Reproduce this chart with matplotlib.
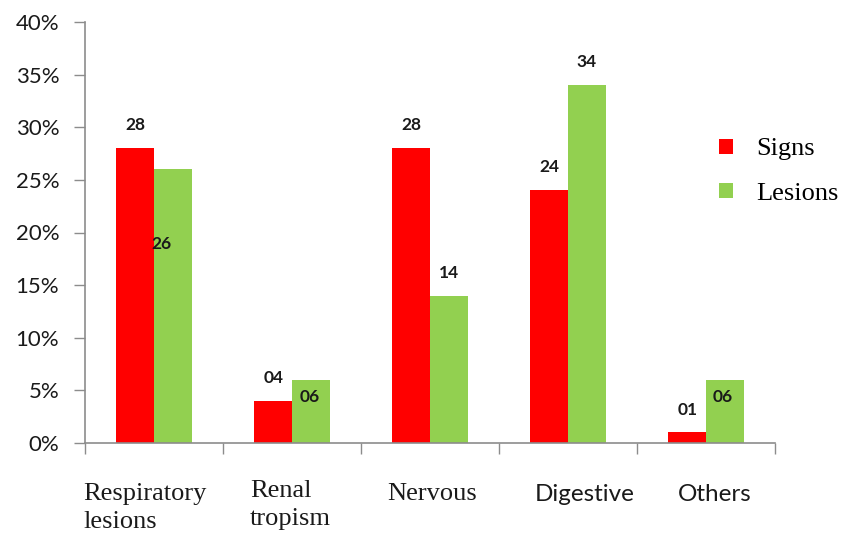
import matplotlib
matplotlib.use("Agg")
import matplotlib.pyplot as plt
from matplotlib.ticker import FuncFormatter, MultipleLocator
import numpy as np

categories = ["Respiratory\nlesions", "Renal\ntropism", "Nervous", "Digestive", "Others"]
signs = [28, 4, 28, 24, 1]
lesions = [26, 6, 14, 34, 6]
signs_labels = ["28", "04", "28", "24", "01"]
lesions_labels = ["26", "06", "14", "34", "06"]

# label offsets (pixels) relative to the top centre of each bar
signs_offsets = [(0, 23), (0, 23), (0, 23), (0, 23), (0, 22)]
lesions_offsets = [(-11, -75), (-1, -17), (0, 23), (0, 23), (-2, -17)]

# category label placement: left edge / top relative to category centre at the axis
cat_dx = [-71, -42, -43, -33, -28]
cat_dy = [-40, -37, -40, -41, -41]
SERIF = ["Liberation Serif", "DejaVu Serif"]
SANS = ["Lato", "DejaVu Sans"]
cat_fonts = [SERIF, SERIF, SERIF, SANS, SANS]
cat_sizes = [19, 19, 19, 17.5, 17.5]

RED = "#FF0000"
GREEN = "#92D050"
AXIS_GREY = "#8C8C8C"
TEXT = "#1a1a1a"

fig = plt.figure(figsize=(8.42, 5.33), dpi=100)
ax = fig.add_axes([85 / 842, 1 - 443 / 533, 690 / 842, 421 / 533])

x = np.arange(len(categories))
w = 0.272
b1 = ax.bar(x - w / 2, signs, w, color=RED, label="Signs", zorder=2)
b2 = ax.bar(x + w / 2, lesions, w, color=GREEN, label="Lesions", zorder=2)

label_font = dict(family=SANS, fontsize=12.5, fontweight="bold", color=TEXT)
for bars, labels, offs in ((b1, signs_labels, signs_offsets), (b2, lesions_labels, lesions_offsets)):
    for rect, lab, (dx, dy) in zip(bars, labels, offs):
        ax.annotate(lab, (rect.get_x() + rect.get_width() / 2, rect.get_height()),
                    xytext=(dx, dy), textcoords="offset pixels",
                    ha="center", va="center", zorder=3, **label_font)

ax.set_xlim(-0.5, len(categories) - 0.5)
ax.set_ylim(0, 40)

ax.yaxis.set_major_locator(MultipleLocator(5))
ax.yaxis.set_major_formatter(FuncFormatter(lambda v, p: f"{v:.0f}%"))
ax.tick_params(axis="y", direction="out", length=8, width=1, color=AXIS_GREY,
               pad=10.5, labelsize=16, labelcolor=TEXT)
for t in ax.get_yticklabels():
    t.set_family(SANS)

# tick marks at the category boundaries; names drawn as text below the axis
ax.set_xticks(np.arange(-0.5, len(categories), 1.0))
ax.set_xticklabels([])
ax.tick_params(axis="x", direction="out", length=8, width=1, color=AXIS_GREY)
for xi, name, dx, dy, fam, sz in zip(x, categories, cat_dx, cat_dy, cat_fonts, cat_sizes):
    ax.annotate(name, (xi, 0), xytext=(dx, dy), textcoords="offset pixels",
                ha="left", va="top", multialignment="left", linespacing=1.35,
                family=fam, fontsize=sz, color=TEXT, annotation_clip=False)

for side in ("top", "right"):
    ax.spines[side].set_visible(False)
for side in ("left", "bottom"):
    ax.spines[side].set_color(AXIS_GREY)
    ax.spines[side].set_linewidth(1.2)

fig.legend(handles=[b1, b2], labels=["Signs", "Lesions"], loc="upper left",
           bbox_to_anchor=(701 / 842, 1 - 120 / 533), frameon=False,
           prop=dict(family=SERIF, size=19),
           handlelength=0.5, handleheight=0.5, handletextpad=0.9, labelspacing=0.85,
           borderpad=0.2)

fig.savefig("out.png", dpi=100)
